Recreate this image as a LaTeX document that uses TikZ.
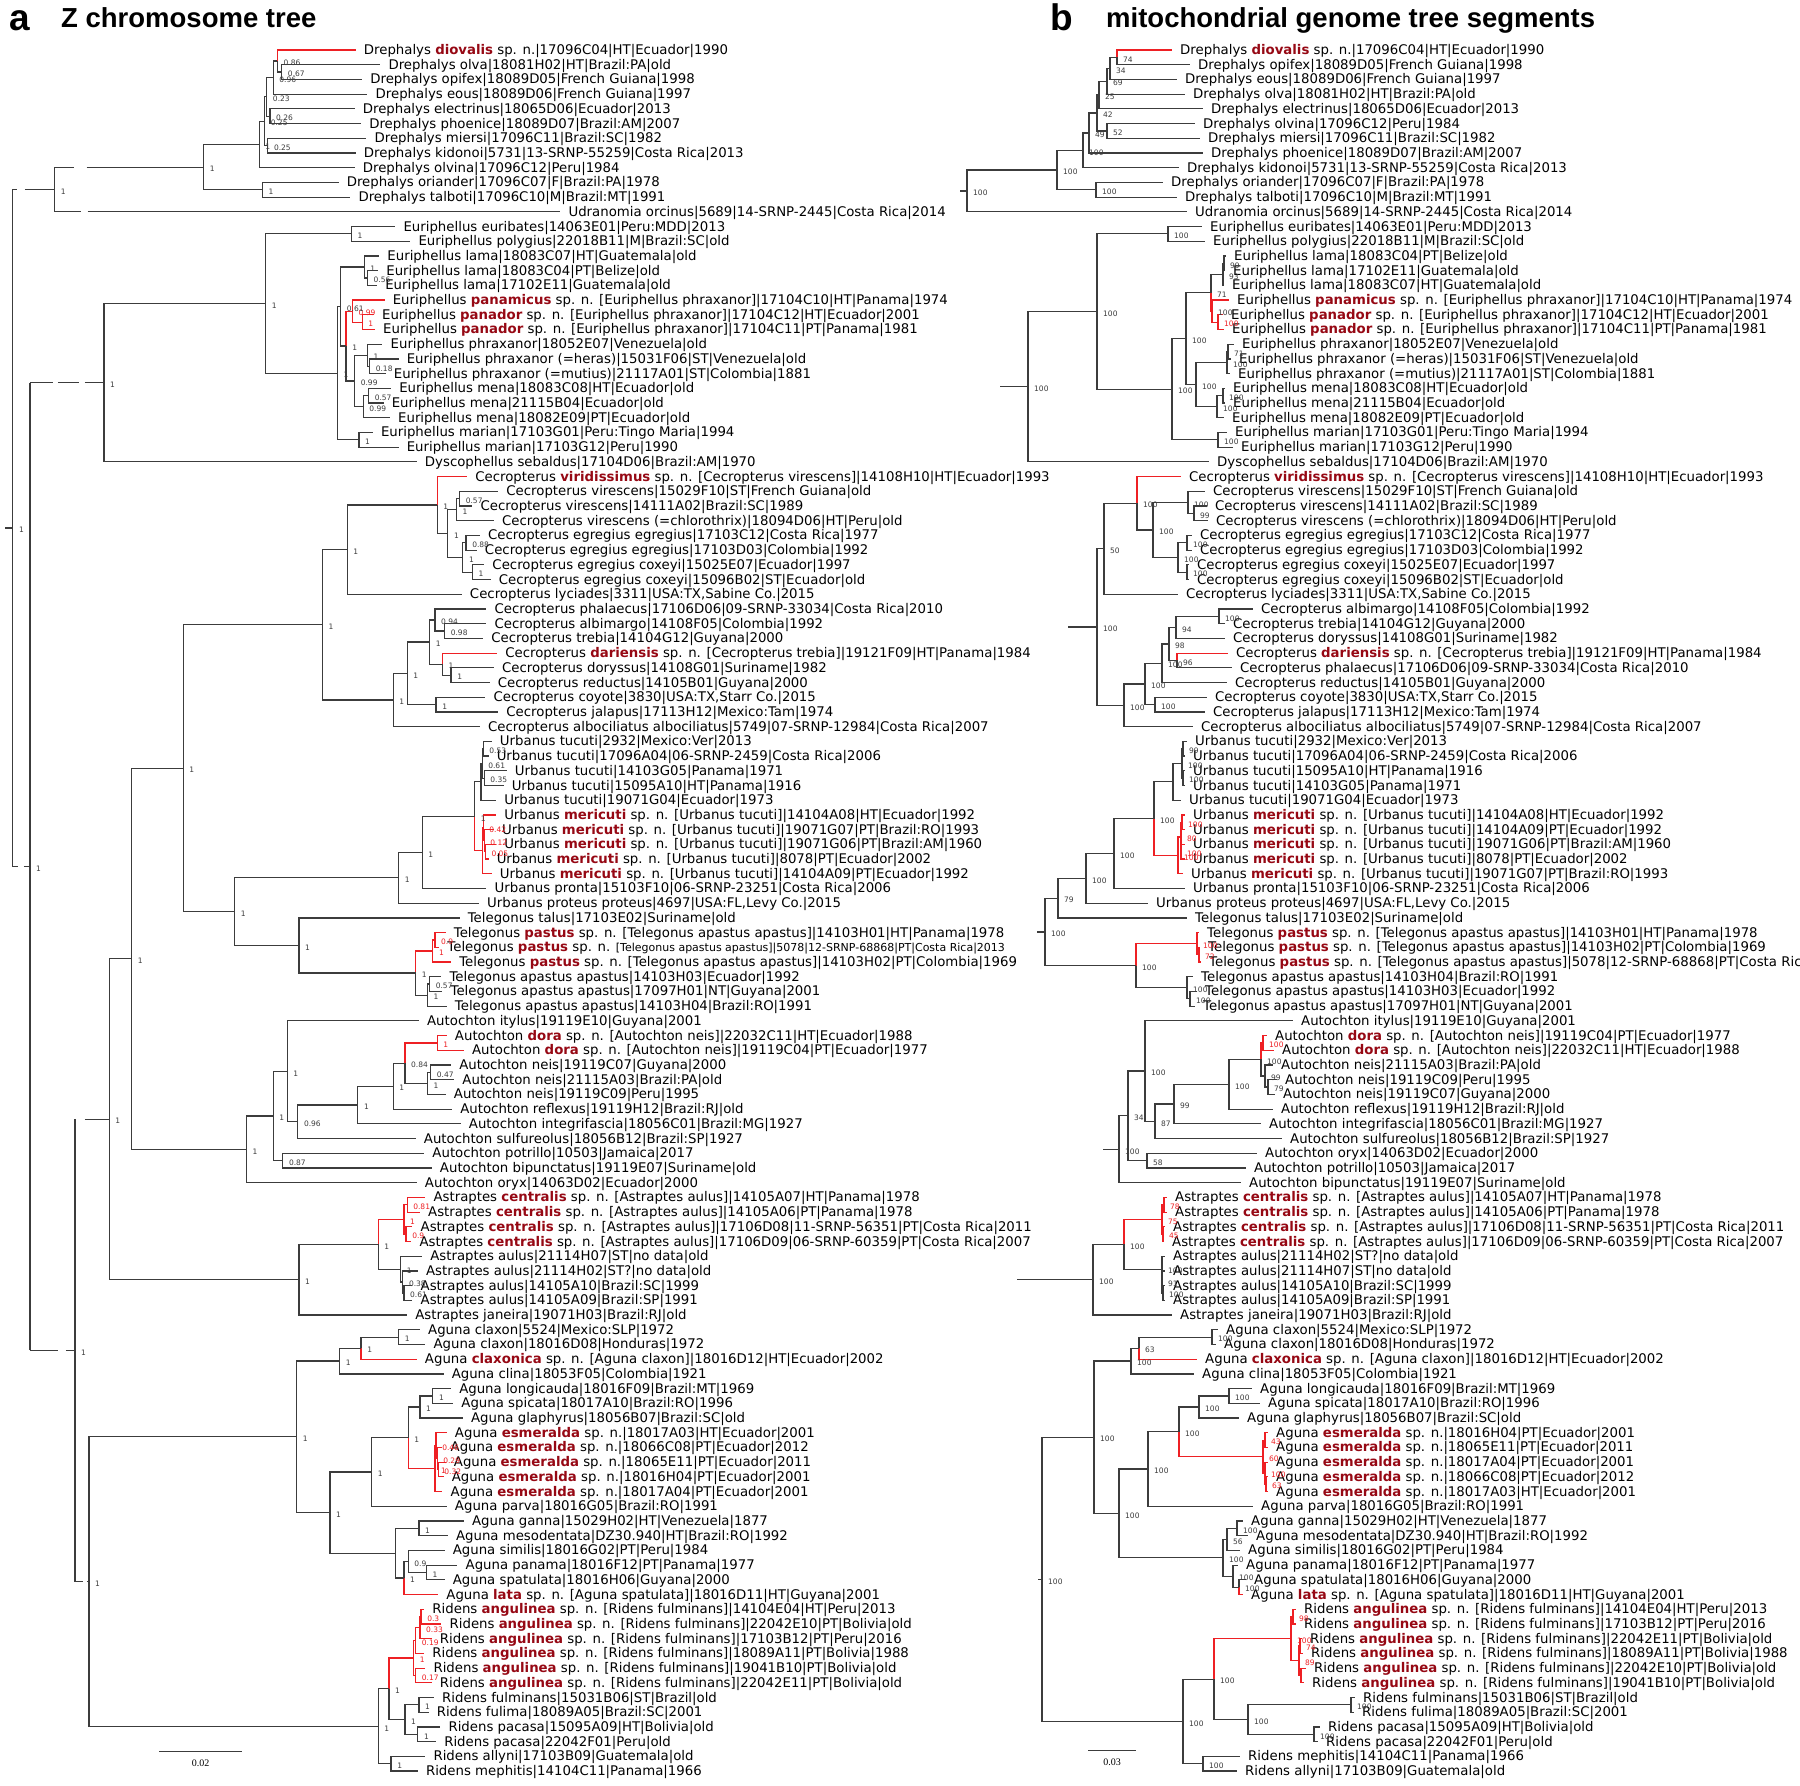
\documentclass[tikz,border=0pt]{standalone}
\usepackage{fontspec}
\setmainfont{DejaVu Sans}
\newfontfamily\headfont{Liberation Sans}
\newfontfamily\barfont{Liberation Serif}
\usetikzlibrary{calc}
\definecolor{treecol}{RGB}{60,60,60}
\definecolor{bred}{RGB}{238,32,36}
\definecolor{sred}{RGB}{150,8,20}
\newcommand\sn[1]{\textbf{\textcolor{sred}{#1}}}
\newcommand\R[1]{\textcolor{bred}{#1}}
\newcommand\spPnm{Euriphellus \sn{panamicus} sp. n. [Euriphellus phraxanor]}
\newcommand\spPnd{Euriphellus \sn{panador} sp. n. [Euriphellus phraxanor]}
\newcommand\spVir{Cecropterus \sn{viridissimus} sp. n. [Cecropterus virescens]}
\newcommand\spDar{Cecropterus \sn{dariensis} sp. n. [Cecropterus trebia]}
\newcommand\spMer{Urbanus \sn{mericuti} sp. n. [Urbanus tucuti]}
\newcommand\spPas{Telegonus \sn{pastus} sp. n. [Telegonus apastus apastus]}
\newcommand\spDor{Autochton \sn{dora} sp. n. [Autochton neis]}
\newcommand\spCen{Astraptes \sn{centralis} sp. n. [Astraptes aulus]}
\newcommand\spCla{Aguna \sn{claxonica} sp. n. [Aguna claxon]}
\newcommand\spEsm{Aguna \sn{esmeralda} sp. n.}
\newcommand\spLat{Aguna \sn{lata} sp. n. [Aguna spatulata]}
\newcommand\spAng{Ridens \sn{angulinea} sp. n. [Ridens fulminans]}
\newcommand\leafL[3]{\node[leaf] (L#1) at (#2,{35.29+14.71*#1}) {#3};}
\newcommand\leafR[3]{\node[leaf] (R#1) at (#2,{35.29+14.71*#1}) {#3};}
\newcommand\cladenode[5]{\coordinate (tmp) at ($(#3)!.5!(#4)$);
  \coordinate (#1) at (#2,0 |- tmp); \node[sup] (#1s) at (#1) {#5};}
\newcommand\clade[7]{\cladenode{#1}{#2}{#3}{#4}{#7}
  \draw[#5] (#1) |- (#3); \draw[#6] (#1) |- (#4);}
\newcommand\brokenedge[3]{\draw[ln] (#1) -- (#1 |- #2);
  \draw[ln,dash pattern=#3] (#1 |- #2) -- (#2);}
\tikzset{
  ln/.style={draw=treecol,line width=1.2pt},
  lr/.style={draw=bred,line width=1.2pt},
  leaf/.style={anchor=west,inner xsep=8pt,inner ysep=0pt,text height=9.5pt,text depth=0.5pt,
    font=\fontsize{13.3}{14}\selectfont},
  sup/.style={anchor=west,inner sep=0pt,xshift=6pt,yshift=-2pt,text=treecol,
    font=\fontsize{7.5}{8}\selectfont},
  head/.style={anchor=base west,inner sep=0pt,font=\headfont\bfseries\fontsize{27.5}{28}\selectfont},
  panel/.style={anchor=base west,inner sep=0pt,font=\headfont\bfseries\fontsize{37}{37}\selectfont},
  barlabel/.style={inner sep=0pt,font=\barfont\fontsize{10}{10}\selectfont}
}
\begin{document}
\begin{tikzpicture}[x=1pt,y=-1pt]
\fill[white] (0,0) rectangle (1800,1786);
\useasboundingbox (0,0) rectangle (1800,1786);
\node[panel] (pa) at (9,30) {a};
\node[head] (ha) at (61,27) {Z chromosome tree};
\node[panel] (pb) at (1050,30) {b};
\node[head] (hb) at (1106,27) {mitochondrial genome tree segments};

\begin{scope}[x=1.0714pt]
\leafL{1}{332}{Drephalys \sn{diovalis} sp. n.|17096C04|HT|Ecuador|1990}
\leafL{2}{355}{Drephalys olva|18081H02|HT|Brazil:PA|old}
\leafL{3}{338}{Drephalys opifex|18089D05|French Guiana|1998}
\leafL{4}{343}{Drephalys eous|18089D06|French Guiana|1997}
\leafL{5}{331}{Drephalys electrinus|18065D06|Ecuador|2013}
\leafL{6}{337}{Drephalys phoenice|18089D07|Brazil:AM|2007}
\leafL{7}{342}{Drephalys miersi|17096C11|Brazil:SC|1982}
\leafL{8}{332}{Drephalys kidonoi|5731|13-SRNP-55259|Costa Rica|2013}
\leafL{9}{331}{Drephalys olvina|17096C12|Peru|1984}
\leafL{10}{316}{Drephalys oriander|17096C07|F|Brazil:PA|1978}
\leafL{11}{327}{Drephalys talboti|17096C10|M|Brazil:MT|1991}
\leafL{12}{523}{Udranomia orcinus|5689|14-SRNP-2445|Costa Rica|2014}
\leafL{13}{369}{Euriphellus euribates|14063E01|Peru:MDD|2013}
\leafL{14}{383}{Euriphellus polygius|22018B11|M|Brazil:SC|old}
\leafL{15}{354}{Euriphellus lama|18083C07|HT|Guatemala|old}
\leafL{16}{353}{Euriphellus lama|18083C04|PT|Belize|old}
\leafL{17}{352}{Euriphellus lama|17102E11|Guatemala|old}
\leafL{18}{359}{\spPnm|17104C10|HT|Panama|1974}
\leafL{19}{349}{\spPnd|17104C12|HT|Ecuador|2001}
\leafL{20}{350}{\spPnd|17104C11|PT|Panama|1981}
\leafL{21}{357}{Euriphellus phraxanor|18052E07|Venezuela|old}
\leafL{22}{372}{Euriphellus phraxanor (=heras)|15031F06|ST|Venezuela|old}
\leafL{23}{360}{Euriphellus phraxanor (=mutius)|21117A01|ST|Colombia|1881}
\leafL{24}{365}{Euriphellus mena|18083C08|HT|Ecuador|old}
\leafL{25}{358}{Euriphellus mena|21115B04|Ecuador|old}
\leafL{26}{364}{Euriphellus mena|18082E09|PT|Ecuador|old}
\leafL{27}{348}{Euriphellus marian|17103G01|Peru:Tingo Maria|1994}
\leafL{28}{372}{Euriphellus marian|17103G12|Peru|1990}
\leafL{29}{389}{Dyscophellus sebaldus|17104D06|Brazil:AM|1970}
\leafL{30}{436}{\spVir|14108H10|HT|Ecuador|1993}
\leafL{31}{465}{Cecropterus virescens|15029F10|ST|French Guiana|old}
\leafL{32}{441}{Cecropterus virescens|14111A02|Brazil:SC|1989}
\leafL{33}{461}{Cecropterus virescens (=chlorothrix)|18094D06|HT|Peru|old}
\leafL{34}{448}{Cecropterus egregius egregius|17103C12|Costa Rica|1977}
\leafL{35}{445}{Cecropterus egregius egregius|17103D03|Colombia|1992}
\leafL{36}{452}{Cecropterus egregius coxeyi|15025E07|Ecuador|1997}
\leafL{37}{458}{Cecropterus egregius coxeyi|15096B02|ST|Ecuador|old}
\leafL{38}{431}{Cecropterus lyciades|3311|USA:TX,Sabine Co.|2015}
\leafL{39}{454}{Cecropterus phalaecus|17106D06|09-SRNP-33034|Costa Rica|2010}
\leafL{40}{454}{Cecropterus albimargo|14108F05|Colombia|1992}
\leafL{41}{451}{Cecropterus trebia|14104G12|Guyana|2000}
\leafL{42}{464}{\spDar|19121F09|HT|Panama|1984}
\leafL{43}{461}{Cecropterus doryssus|14108G01|Suriname|1982}
\leafL{44}{457}{Cecropterus reductus|14105B01|Guyana|2000}
\leafL{45}{453}{Cecropterus coyote|3830|USA:TX,Starr Co.|2015}
\leafL{46}{465}{Cecropterus jalapus|17113H12|Mexico:Tam|1974}
\leafL{47}{448}{Cecropterus albociliatus albociliatus|5749|07-SRNP-12984|Costa Rica|2007}
\leafL{48}{459}{Urbanus tucuti|2932|Mexico:Ver|2013}
\leafL{49}{456}{Urbanus tucuti|17096A04|06-SRNP-2459|Costa Rica|2006}
\leafL{50}{473}{Urbanus tucuti|14103G05|Panama|1971}
\leafL{51}{470}{Urbanus tucuti|15095A10|HT|Panama|1916}
\leafL{52}{463}{Urbanus tucuti|19071G04|Ecuador|1973}
\leafL{53}{463}{\spMer|14104A08|HT|Ecuador|1992}
\leafL{54}{461}{\spMer|19071G07|PT|Brazil:RO|1993}
\leafL{55}{463}{\spMer|19071G06|PT|Brazil:AM|1960}
\leafL{56}{456}{\spMer|8078|PT|Ecuador|2002}
\leafL{57}{459}{\spMer|14104A09|PT|Ecuador|1992}
\leafL{58}{454}{Urbanus pronta|15103F10|06-SRNP-23251|Costa Rica|2006}
\leafL{59}{447}{Urbanus proteus proteus|4697|USA:FL,Levy Co.|2015}
\leafL{60}{429}{Telegonus talus|17103E02|Suriname|old}
\leafL{61}{416}{\spPas|14103H01|HT|Panama|1978}
\leafL{62}{410}{Telegonus \sn{pastus} sp. n. {\fontsize{11}{11}\selectfont[Telegonus apastus apastus]|5078|12-SRNP-68868|PT|Costa Rica|2013}}
\leafL{63}{421}{\spPas|14103H02|PT|Colombia|1969}
\leafL{64}{412}{Telegonus apastus apastus|14103H03|Ecuador|1992}
\leafL{65}{413}{Telegonus apastus apastus|17097H01|NT|Guyana|2001}
\leafL{66}{417}{Telegonus apastus apastus|14103H04|Brazil:RO|1991}
\leafL{67}{391}{Autochton itylus|19119E10|Guyana|2001}
\leafL{68}{417}{\spDor|22032C11|HT|Ecuador|1988}
\leafL{69}{433}{\spDor|19119C04|PT|Ecuador|1977}
\leafL{70}{421}{Autochton neis|19119C07|Guyana|2000}
\leafL{71}{424}{Autochton neis|21115A03|Brazil:PA|old}
\leafL{72}{416}{Autochton neis|19119C09|Peru|1995}
\leafL{73}{422}{Autochton reflexus|19119H12|Brazil:RJ|old}
\leafL{74}{430}{Autochton integrifascia|18056C01|Brazil:MG|1927}
\leafL{75}{388}{Autochton sulfureolus|18056B12|Brazil:SP|1927}
\leafL{76}{396}{Autochton potrillo|10503|Jamaica|2017}
\leafL{77}{403}{Autochton bipunctatus|19119E07|Suriname|old}
\leafL{78}{389}{Autochton oryx|14063D02|Ecuador|2000}
\leafL{79}{397}{\spCen|14105A07|HT|Panama|1978}
\leafL{80}{392}{\spCen|14105A06|PT|Panama|1978}
\leafL{81}{385}{\spCen|17106D08|11-SRNP-56351|PT|Costa Rica|2011}
\leafL{82}{384}{\spCen|17106D09|06-SRNP-60359|PT|Costa Rica|2007}
\leafL{83}{394}{Astraptes aulus|21114H07|ST|no data|old}
\leafL{84}{390}{Astraptes aulus|21114H02|ST?|no data|old}
\leafL{85}{385}{Astraptes aulus|14105A10|Brazil:SC|1999}
\leafL{86}{385}{Astraptes aulus|14105A09|Brazil:SP|1991}
\leafL{87}{380}{Astraptes janeira|19071H03|Brazil:RJ|old}
\leafL{88}{392}{Aguna claxon|5524|Mexico:SLP|1972}
\leafL{89}{397}{Aguna claxon|18016D08|Honduras|1972}
\leafL{90}{389}{\spCla|18016D12|HT|Ecuador|2002}
\leafL{91}{414}{Aguna clina|18053F05|Colombia|1921}
\leafL{92}{421}{Aguna longicauda|18016F09|Brazil:MT|1969}
\leafL{93}{423}{Aguna spicata|18017A10|Brazil:RO|1996}
\leafL{94}{432}{Aguna glaphyrus|18056B07|Brazil:SC|old}
\leafL{95}{417}{\spEsm|18017A03|HT|Ecuador|2001}
\leafL{96}{413}{\spEsm|18066C08|PT|Ecuador|2012}
\leafL{97}{416}{\spEsm|18065E11|PT|Ecuador|2011}
\leafL{98}{414}{\spEsm|18016H04|PT|Ecuador|2001}
\leafL{99}{413}{\spEsm|18017A04|PT|Ecuador|2001}
\leafL{100}{417}{Aguna parva|18016G05|Brazil:RO|1991}
\leafL{101}{433}{Aguna ganna|15029H02|HT|Venezuela|1877}
\leafL{102}{418}{Aguna mesodentata|DZ30.940|HT|Brazil:RO|1992}
\leafL{103}{415}{Aguna similis|18016G02|PT|Peru|1984}
\leafL{104}{427}{Aguna panama|18016F12|PT|Panama|1977}
\leafL{105}{415}{Aguna spatulata|18016H06|Guyana|2000}
\leafL{106}{409}{\spLat|18016D11|HT|Guyana|2001}
\leafL{107}{396}{\spAng|14104E04|HT|Peru|2013}
\leafL{108}{412}{\spAng|22042E10|PT|Bolivia|old}
\leafL{109}{403}{\spAng|17103B12|PT|Peru|2016}
\leafL{110}{396}{\spAng|18089A11|PT|Bolivia|1988}
\leafL{111}{397}{\spAng|19041B10|PT|Bolivia|old}
\leafL{112}{403}{\spAng|22042E11|PT|Bolivia|old}
\leafL{113}{405}{Ridens fulminans|15031B06|ST|Brazil|old}
\leafL{114}{400}{Ridens fulima|18089A05|Brazil:SC|2001}
\leafL{115}{411}{Ridens pacasa|15095A09|HT|Bolivia|old}
\leafL{116}{407}{Ridens pacasa|22042F01|Peru|old}
\leafL{117}{397}{Ridens allyni|17103B09|Guatemala|old}
\leafL{118}{390}{Ridens mephitis|14104C11|Panama|1966}

\clade{lD1}{263}{L2}{L3}{ln}{ln}{0.67}
\clade{lD2}{259}{L1}{lD1}{lr}{ln}{0.86}
\clade{lD3}{255}{lD2}{L4}{ln}{ln}{0.96}
\clade{lD5}{252}{L5}{L6}{ln}{ln}{0.26}
\clade{lD4}{249}{lD3}{lD5}{ln}{ln}{0.23}
\clade{lD6}{250}{L7}{L8}{ln}{ln}{0.25}
\clade{lD7}{247}{lD4}{lD6}{ln}{ln}{0.25}
\clade{lD8}{242}{lD7}{L9}{ln}{ln}{1}
\clade{lD9}{245}{L10}{L11}{ln}{ln}{1}
\clade{lD10}{190}{lD8}{lD9}{ln}{ln}{1}
\clade{lE1}{328}{L13}{L14}{ln}{ln}{1}
\clade{lE2}{343}{L16}{L17}{ln}{ln}{0.56}
\clade{lE3}{340}{L15}{lE2}{ln}{ln}{1}
\clade{lE4}{338}{L19}{L20}{lr}{lr}{\R{1}}
\clade{lE5}{329}{L18}{lE4}{lr}{lr}{\R{0.99}}
\clade{lE6a}{345}{L22}{L23}{ln}{ln}{0.18}
\clade{lE6}{343}{L21}{lE6a}{ln}{ln}{1}
\clade{lE8a}{344}{L24}{L25}{ln}{ln}{0.57}
\clade{lE8}{339}{lE8a}{L26}{ln}{ln}{0.99}
\clade{lE9}{331}{lE6}{lE8}{ln}{ln}{0.99}
\clade{lE10}{323}{lE5}{lE9}{lr}{ln}{1}
\clade{lE7}{318}{lE3}{lE10}{ln}{ln}{0.61}
\clade{lE11}{335}{L27}{L28}{ln}{ln}{1}
\clade{lE12}{315}{lE7}{lE11}{ln}{ln}{1}
\clade{lE13}{248}{lE1}{lE12}{ln}{ln}{1}
\clade{lE0}{97}{lE13}{L29}{ln}{ln}{1}
\clade{lC31}{429}{L31}{L32}{ln}{ln}{0.57}
\clade{lC5}{426}{lC31}{L33}{ln}{ln}{1}
\clade{lC34}{435}{L34}{L35}{ln}{ln}{0.88}
\clade{lC36}{441}{L36}{L37}{ln}{ln}{1}
\clade{lC6}{432}{lC34}{lC36}{ln}{ln}{1}
\clade{lC4}{418}{lC5}{lC6}{ln}{ln}{1}
\clade{lC3}{408}{L30}{lC4}{lr}{ln}{1}
\clade{lC1}{324}{lC3}{L38}{ln}{ln}{1}
\clade{lC40}{415}{L40}{L41}{ln}{ln}{0.98}
\clade{lC10}{406}{L39}{lC40}{ln}{ln}{0.94}
\clade{lC43}{421}{L43}{L44}{ln}{ln}{1}
\clade{lC11}{413}{L42}{lC43}{lr}{ln}{1}
\clade{lC9}{401}{lC10}{lC11}{ln}{ln}{1}
\clade{lC45}{407}{L45}{L46}{ln}{ln}{1}
\clade{lC8}{380}{lC9}{lC45}{ln}{ln}{1}
\clade{lC2}{367}{lC8}{L47}{ln}{ln}{1}
\clade{lC0}{301}{lC1}{lC2}{ln}{ln}{1}
\clade{lU6}{451}{L48}{L49}{ln}{ln}{0.53}
\clade{lU7}{452}{L50}{L51}{ln}{ln}{0.35}
\clade{lU5}{450}{lU6}{lU7}{ln}{ln}{0.61}
\clade{lU4}{449}{lU5}{L52}{ln}{ln}{}
\clade{lUm4}{453}{L55}{L56}{lr}{lr}{\R{0.05}}
\clade{lUm3}{452}{L54}{lUm4}{lr}{lr}{\R{0.12}}
\clade{lUm2}{451}{L53}{lUm3}{lr}{lr}{\R{0.42}}
\clade{lUm}{450}{lUm2}{L57}{lr}{lr}{}
\clade{lU3}{443}{lU4}{lUm}{ln}{lr}{1}
\clade{lU2}{394}{lU3}{L58}{ln}{ln}{1}
\clade{lU1}{372}{lU2}{L59}{ln}{ln}{1}
\clade{lTp2}{406}{L61}{L62}{lr}{lr}{\R{0.9}}
\clade{lTp}{404}{lTp2}{L63}{lr}{lr}{\R{1}}
\clade{lTa2}{401}{L64}{L65}{ln}{ln}{0.57}
\clade{lTa}{399}{lTa2}{L66}{ln}{ln}{1}
\clade{lT1}{388}{lTp}{lTa}{lr}{ln}{1}
\clade{lT0}{279}{L60}{lT1}{ln}{ln}{1}
\clade{lU0}{219}{lU1}{lT0}{ln}{ln}{1}
\clade{lCU}{171}{lC0}{lU0}{ln}{ln}{1}
\clade{lAd}{408}{L68}{L69}{lr}{lr}{\R{1}}
\clade{lA70}{402}{L70}{L71}{ln}{ln}{0.47}
\clade{lA7}{399}{lA70}{L72}{ln}{ln}{1}
\clade{lA6}{378}{lAd}{lA7}{lr}{ln}{0.84}
\clade{lA5}{367}{lA6}{L73}{ln}{ln}{1}
\clade{lA4}{334}{lA5}{L74}{ln}{ln}{1}
\clade{lA3}{278}{lA4}{L75}{ln}{ln}{0.96}
\clade{lA2}{268}{L67}{lA3}{ln}{ln}{1}
\clade{lA76}{264}{L76}{L77}{ln}{ln}{0.87}
\clade{lA1}{255}{lA2}{lA76}{ln}{ln}{1}
\clade{lA0}{230}{lA1}{L78}{ln}{ln}{1}
\clade{lCA}{123}{lCU}{lA0}{ln}{ln}{1}
\clade{lAc2}{380}{L79}{L80}{lr}{lr}{\R{0.81}}
\clade{lAc3}{379}{L81}{L82}{lr}{lr}{\R{0.9}}
\clade{lAc}{377}{lAc2}{lAc3}{lr}{lr}{\R{1}}
\clade{lAa3}{377}{L85}{L86}{ln}{ln}{0.61}
\clade{lAa2}{376}{L84}{lAa3}{ln}{ln}{0.38}
\clade{lAa}{374}{L83}{lAa2}{ln}{ln}{1}
\clade{lS1}{353}{lAc}{lAa}{lr}{ln}{1}
\clade{lS0}{279}{lS1}{L87}{ln}{ln}{1}
\clade{lZ3}{102}{lCA}{lS0}{ln}{ln}{1}
\clade{lG88}{372}{L88}{L89}{ln}{ln}{1}
\clade{lG4}{337}{lG88}{L90}{ln}{lr}{1}
\clade{lG2}{317}{lG4}{L91}{ln}{ln}{1}
\clade{lG92}{404}{L92}{L93}{ln}{ln}{1}
\clade{lG8}{392}{lG92}{L94}{ln}{ln}{1}
\clade{lGe4}{409}{L97}{L98}{lr}{lr}{\R{0.32}}
\clade{lGe3}{408}{L96}{lGe4}{lr}{lr}{\R{0.29}}
\clade{lGe2}{407}{L95}{lGe3}{lr}{lr}{\R{0.46}}
\clade{lGe}{406}{lGe2}{L99}{lr}{lr}{\R{1}}
\clade{lG7}{381}{lG8}{lGe}{ln}{lr}{1}
\clade{lG5}{347}{lG7}{L100}{ln}{ln}{1}
\clade{lG101}{391}{L101}{L102}{ln}{ln}{1}
\clade{lG104}{398}{L104}{L105}{ln}{ln}{1}
\clade{lG10}{381}{L103}{lG104}{ln}{ln}{0.9}
\clade{lG9}{377}{lG10}{L106}{ln}{lr}{1}
\clade{lG6}{369}{lG101}{lG9}{ln}{ln}{}
\clade{lG3}{308}{lG5}{lG6}{ln}{ln}{1}
\clade{lG1}{277}{lG2}{lG3}{ln}{ln}{1}
\clade{lRa4}{393}{L107}{L108}{lr}{lr}{\R{0.3}}
\clade{lRa2}{392}{lRa4}{L109}{lr}{lr}{\R{0.33}}
\clade{lRaA}{388}{lRa2}{L110}{lr}{lr}{\R{0.19}}
\clade{lRa5}{388}{L111}{L112}{lr}{lr}{\R{0.17}}
\clade{lRa}{386}{lRaA}{lRa5}{lr}{lr}{\R{1}}
\clade{lRf1}{391}{L113}{L114}{ln}{ln}{1}
\clade{lRf2}{390}{L115}{L116}{ln}{ln}{1}
\clade{lRf}{378}{lRf1}{lRf2}{ln}{ln}{1}
\clade{lRi1}{363}{lRa}{lRf}{lr}{ln}{1}
\clade{lR117}{365}{L117}{L118}{ln}{ln}{1}
\clade{lRi0}{353}{lRi1}{lR117}{ln}{ln}{1}
\clade{lAg0}{83}{lG1}{lRi0}{ln}{ln}{1}
\cladenode{lZ2}{70}{lZ3}{lAg0}{1}
\brokenedge{lZ2}{lZ3}{on 1pt off 9pt on 4000pt off 1pt}
\brokenedge{lZ2}{lAg0}{on 8pt off 4pt on 4000pt off 1pt}
\cladenode{lZ1}{28}{lE0}{lZ2}{1}
\brokenedge{lZ1}{lE0}{on 23pt off 5pt on 21pt off 6pt on 4000pt off 1pt}
\brokenedge{lZ1}{lZ2}{on 28pt off 8pt on 4000pt off 1pt}
\cladenode{lD11}{51}{lD10}{L12}{1}
\brokenedge{lD11}{lD10}{on 19pt off 13pt on 4000pt off 1pt}
\brokenedge{lD11}{L12}{on 26pt off 7pt on 4000pt off 1pt}
\cladenode{lR}{12}{lD11}{lZ1}{1}
\brokenedge{lR}{lD11}{on 4pt off 8pt on 4000pt off 1pt}
\brokenedge{lR}{lZ1}{on 5pt off 6pt on 4000pt off 1pt}
\coordinate (lstub) at (5,0 |- lR);
\draw[ln] (lstub) -- (lR);
\end{scope}

\leafR{1}{1172}{Drephalys \sn{diovalis} sp. n.|17096C04|HT|Ecuador|1990}
\leafR{2}{1190}{Drephalys opifex|18089D05|French Guiana|1998}
\leafR{3}{1177}{Drephalys eous|18089D06|French Guiana|1997}
\leafR{4}{1185}{Drephalys olva|18081H02|HT|Brazil:PA|old}
\leafR{5}{1203}{Drephalys electrinus|18065D06|Ecuador|2013}
\leafR{6}{1195}{Drephalys olvina|17096C12|Peru|1984}
\leafR{7}{1200}{Drephalys miersi|17096C11|Brazil:SC|1982}
\leafR{8}{1203}{Drephalys phoenice|18089D07|Brazil:AM|2007}
\leafR{9}{1179}{Drephalys kidonoi|5731|13-SRNP-55259|Costa Rica|2013}
\leafR{10}{1163}{Drephalys oriander|17096C07|F|Brazil:PA|1978}
\leafR{11}{1177}{Drephalys talboti|17096C10|M|Brazil:MT|1991}
\leafR{12}{1187}{Udranomia orcinus|5689|14-SRNP-2445|Costa Rica|2014}
\leafR{13}{1202}{Euriphellus euribates|14063E01|Peru:MDD|2013}
\leafR{14}{1205}{Euriphellus polygius|22018B11|M|Brazil:SC|old}
\leafR{15}{1226}{Euriphellus lama|18083C04|PT|Belize|old}
\leafR{16}{1225}{Euriphellus lama|17102E11|Guatemala|old}
\leafR{17}{1224}{Euriphellus lama|18083C07|HT|Guatemala|old}
\leafR{18}{1229}{\spPnm|17104C10|HT|Panama|1974}
\leafR{19}{1223}{\spPnd|17104C12|HT|Ecuador|2001}
\leafR{20}{1224}{\spPnd|17104C11|PT|Panama|1981}
\leafR{21}{1234}{Euriphellus phraxanor|18052E07|Venezuela|old}
\leafR{22}{1231}{Euriphellus phraxanor (=heras)|15031F06|ST|Venezuela|old}
\leafR{23}{1230}{Euriphellus phraxanor (=mutius)|21117A01|ST|Colombia|1881}
\leafR{24}{1225}{Euriphellus mena|18083C08|HT|Ecuador|old}
\leafR{25}{1225}{Euriphellus mena|21115B04|Ecuador|old}
\leafR{26}{1224}{Euriphellus mena|18082E09|PT|Ecuador|old}
\leafR{27}{1227}{Euriphellus marian|17103G01|Peru:Tingo Maria|1994}
\leafR{28}{1233}{Euriphellus marian|17103G12|Peru|1990}
\leafR{29}{1209}{Dyscophellus sebaldus|17104D06|Brazil:AM|1970}
\leafR{30}{1181}{\spVir|14108H10|HT|Ecuador|1993}
\leafR{31}{1205}{Cecropterus virescens|15029F10|ST|French Guiana|old}
\leafR{32}{1207}{Cecropterus virescens|14111A02|Brazil:SC|1989}
\leafR{33}{1208}{Cecropterus virescens (=chlorothrix)|18094D06|HT|Peru|old}
\leafR{34}{1192}{Cecropterus egregius egregius|17103C12|Costa Rica|1977}
\leafR{35}{1192}{Cecropterus egregius egregius|17103D03|Colombia|1992}
\leafR{36}{1189}{Cecropterus egregius coxeyi|15025E07|Ecuador|1997}
\leafR{37}{1189}{Cecropterus egregius coxeyi|15096B02|ST|Ecuador|old}
\leafR{38}{1178}{Cecropterus lyciades|3311|USA:TX,Sabine Co.|2015}
\leafR{39}{1253}{Cecropterus albimargo|14108F05|Colombia|1992}
\leafR{40}{1225}{Cecropterus trebia|14104G12|Guyana|2000}
\leafR{41}{1225}{Cecropterus doryssus|14108G01|Suriname|1982}
\leafR{42}{1228}{\spDar|19121F09|HT|Panama|1984}
\leafR{43}{1232}{Cecropterus phalaecus|17106D06|09-SRNP-33034|Costa Rica|2010}
\leafR{44}{1227}{Cecropterus reductus|14105B01|Guyana|2000}
\leafR{45}{1207}{Cecropterus coyote|3830|USA:TX,Starr Co.|2015}
\leafR{46}{1205}{Cecropterus jalapus|17113H12|Mexico:Tam|1974}
\leafR{47}{1193}{Cecropterus albociliatus albociliatus|5749|07-SRNP-12984|Costa Rica|2007}
\leafR{48}{1187}{Urbanus tucuti|2932|Mexico:Ver|2013}
\leafR{49}{1185}{Urbanus tucuti|17096A04|06-SRNP-2459|Costa Rica|2006}
\leafR{50}{1185}{Urbanus tucuti|15095A10|HT|Panama|1916}
\leafR{51}{1185}{Urbanus tucuti|14103G05|Panama|1971}
\leafR{52}{1181}{Urbanus tucuti|19071G04|Ecuador|1973}
\leafR{53}{1185}{\spMer|14104A08|HT|Ecuador|1992}
\leafR{54}{1185}{\spMer|14104A09|PT|Ecuador|1992}
\leafR{55}{1185}{\spMer|19071G06|PT|Brazil:AM|1960}
\leafR{56}{1185}{\spMer|8078|PT|Ecuador|2002}
\leafR{57}{1183}{\spMer|19071G07|PT|Brazil:RO|1993}
\leafR{58}{1185}{Urbanus pronta|15103F10|06-SRNP-23251|Costa Rica|2006}
\leafR{59}{1148}{Urbanus proteus proteus|4697|USA:FL,Levy Co.|2015}
\leafR{60}{1187}{Telegonus talus|17103E02|Suriname|old}
\leafR{61}{1199}{\spPas|14103H01|HT|Panama|1978}
\leafR{62}{1200}{\spPas|14103H02|PT|Colombia|1969}
\leafR{63}{1201}{\spPas|5078|12-SRNP-68868|PT|Costa Rica|2013}
\leafR{64}{1193}{Telegonus apastus apastus|14103H04|Brazil:RO|1991}
\leafR{65}{1197}{Telegonus apastus apastus|14103H03|Ecuador|1992}
\leafR{66}{1195}{Telegonus apastus apastus|17097H01|NT|Guyana|2001}
\leafR{67}{1293}{Autochton itylus|19119E10|Guyana|2001}
\leafR{68}{1267}{\spDor|19119C04|PT|Ecuador|1977}
\leafR{69}{1274}{\spDor|22032C11|HT|Ecuador|1988}
\leafR{70}{1273}{Autochton neis|21115A03|Brazil:PA|old}
\leafR{71}{1277}{Autochton neis|19119C09|Peru|1995}
\leafR{72}{1275}{Autochton neis|19119C07|Guyana|2000}
\leafR{73}{1273}{Autochton reflexus|19119H12|Brazil:RJ|old}
\leafR{74}{1261}{Autochton integrifascia|18056C01|Brazil:MG|1927}
\leafR{75}{1282}{Autochton sulfureolus|18056B12|Brazil:SP|1927}
\leafR{76}{1257}{Autochton oryx|14063D02|Ecuador|2000}
\leafR{77}{1246}{Autochton potrillo|10503|Jamaica|2017}
\leafR{78}{1241}{Autochton bipunctatus|19119E07|Suriname|old}
\leafR{79}{1167}{\spCen|14105A07|HT|Panama|1978}
\leafR{80}{1167}{\spCen|14105A06|PT|Panama|1978}
\leafR{81}{1165}{\spCen|17106D08|11-SRNP-56351|PT|Costa Rica|2011}
\leafR{82}{1164}{\spCen|17106D09|06-SRNP-60359|PT|Costa Rica|2007}
\leafR{83}{1165}{Astraptes aulus|21114H02|ST?|no data|old}
\leafR{84}{1165}{Astraptes aulus|21114H07|ST|no data|old}
\leafR{85}{1165}{Astraptes aulus|14105A10|Brazil:SC|1999}
\leafR{86}{1165}{Astraptes aulus|14105A09|Brazil:SP|1991}
\leafR{87}{1172}{Astraptes janeira|19071H03|Brazil:RJ|old}
\leafR{88}{1218}{Aguna claxon|5524|Mexico:SLP|1972}
\leafR{89}{1216}{Aguna claxon|18016D08|Honduras|1972}
\leafR{90}{1197}{\spCla|18016D12|HT|Ecuador|2002}
\leafR{91}{1194}{Aguna clina|18053F05|Colombia|1921}
\leafR{92}{1252}{Aguna longicauda|18016F09|Brazil:MT|1969}
\leafR{93}{1260}{Aguna spicata|18017A10|Brazil:RO|1996}
\leafR{94}{1239}{Aguna glaphyrus|18056B07|Brazil:SC|old}
\leafR{95}{1268}{\spEsm|18016H04|PT|Ecuador|2001}
\leafR{96}{1268}{\spEsm|18065E11|PT|Ecuador|2011}
\leafR{97}{1268}{\spEsm|18017A04|PT|Ecuador|2001}
\leafR{98}{1268}{\spEsm|18066C08|PT|Ecuador|2012}
\leafR{99}{1268}{\spEsm|18017A03|HT|Ecuador|2001}
\leafR{100}{1253}{Aguna parva|18016G05|Brazil:RO|1991}
\leafR{101}{1243}{Aguna ganna|15029H02|HT|Venezuela|1877}
\leafR{102}{1248}{Aguna mesodentata|DZ30.940|HT|Brazil:RO|1992}
\leafR{103}{1240}{Aguna similis|18016G02|PT|Peru|1984}
\leafR{104}{1238}{Aguna panama|18016F12|PT|Panama|1977}
\leafR{105}{1246}{Aguna spatulata|18016H06|Guyana|2000}
\leafR{106}{1243}{\spLat|18016D11|HT|Guyana|2001}
\leafR{107}{1296}{\spAng|14104E04|HT|Peru|2013}
\leafR{108}{1296}{\spAng|17103B12|PT|Peru|2016}
\leafR{109}{1302}{\spAng|22042E11|PT|Bolivia|old}
\leafR{110}{1303}{\spAng|18089A11|PT|Bolivia|1988}
\leafR{111}{1306}{\spAng|22042E10|PT|Bolivia|old}
\leafR{112}{1304}{\spAng|19041B10|PT|Bolivia|old}
\leafR{113}{1355}{Ridens fulminans|15031B06|ST|Brazil|old}
\leafR{114}{1354}{Ridens fulima|18089A05|Brazil:SC|2001}
\leafR{115}{1320}{Ridens pacasa|15095A09|HT|Bolivia|old}
\leafR{116}{1318}{Ridens pacasa|22042F01|Peru|old}
\leafR{117}{1240}{Ridens mephitis|14104C11|Panama|1966}
\leafR{118}{1237}{Ridens allyni|17103B09|Guatemala|old}

\clade{rB8}{1117}{R1}{R2}{lr}{ln}{74}
\clade{rB7}{1110}{rB8}{R3}{ln}{ln}{34}
\clade{rB6}{1107}{rB7}{R4}{ln}{ln}{69}
\clade{rB5}{1099}{rB6}{R5}{ln}{ln}{25}
\clade{rB67}{1107}{R6}{R7}{ln}{ln}{52}
\clade{rB4}{1097}{rB5}{rB67}{ln}{ln}{42}
\clade{rB3}{1089}{rB4}{R8}{ln}{ln}{49}
\clade{rB2}{1083}{rB3}{R9}{ln}{ln}{100}
\clade{rB10}{1096}{R10}{R11}{ln}{ln}{100}
\clade{rB1}{1057}{rB2}{rB10}{ln}{ln}{100}
\clade{rB0}{967}{rB1}{R12}{ln}{ln}{100}
\clade{rE13}{1168}{R13}{R14}{ln}{ln}{100}
\clade{rEL1}{1224}{R15}{R16}{ln}{ln}{99}
\clade{rEL}{1223}{rEL1}{R17}{ln}{ln}{93}
\clade{rEp1}{1218}{R19}{R20}{lr}{lr}{\R{100}}
\clade{rEp}{1212}{R18}{rEp1}{lr}{lr}{100}
\clade{rE4}{1211}{rEL}{rEp}{ln}{lr}{71}
\clade{rPh1}{1228}{R21}{R22}{ln}{ln}{71}
\clade{rPh}{1227}{rPh1}{R23}{ln}{ln}{100}
\clade{rM1}{1223}{R24}{R25}{ln}{ln}{100}
\clade{rM}{1217}{rM1}{R26}{ln}{ln}{100}
\clade{rE5}{1196}{rPh}{rM}{ln}{ln}{100}
\clade{rE3}{1186}{rE4}{rE5}{ln}{ln}{100}
\clade{rMa}{1218}{R27}{R28}{ln}{ln}{100}
\clade{rE2}{1172}{rE3}{rMa}{ln}{ln}{100}
\clade{rE1}{1097}{rE13}{rE2}{ln}{ln}{100}
\clade{rE0}{1028}{rE1}{R29}{ln}{ln}{100}
\clade{rC32}{1194}{R32}{R33}{ln}{ln}{99}
\clade{rC5}{1188}{R31}{rC32}{ln}{ln}{100}
\clade{rC34}{1187}{R34}{R35}{ln}{ln}{100}
\clade{rC36}{1187}{R36}{R37}{ln}{ln}{100}
\clade{rC6}{1178}{rC34}{rC36}{ln}{ln}{100}
\clade{rC4}{1153}{rC5}{rC6}{ln}{ln}{100}
\clade{rC3}{1137}{R30}{rC4}{lr}{ln}{100}
\clade{rC1}{1104}{rC3}{R38}{ln}{ln}{50}
\clade{rC39}{1219}{R39}{R40}{ln}{ln}{100}
\clade{rC10}{1176}{rC39}{R41}{ln}{ln}{94}
\clade{rC11}{1177}{R42}{R43}{lr}{ln}{96}
\clade{rC9}{1169}{rC10}{rC11}{ln}{ln}{98}
\clade{rC8}{1162}{rC9}{R44}{ln}{ln}{100}
\clade{rC45}{1155}{R45}{R46}{ln}{ln}{100}
\clade{rC7}{1145}{rC8}{rC45}{ln}{ln}{100}
\clade{rC2}{1124}{rC7}{R47}{ln}{ln}{100}
\clade{rC0}{1097}{rC1}{rC2}{ln}{ln}{100}
\clade{rU48}{1183}{R48}{R49}{ln}{ln}{99}
\clade{rU50}{1183}{R50}{R51}{ln}{ln}{100}
\clade{rU6}{1182}{rU48}{rU50}{ln}{ln}{100}
\clade{rU5}{1173}{rU6}{R52}{ln}{ln}{}
\clade{rUm1}{1182}{R53}{R54}{lr}{lr}{\R{100}}
\clade{rUm3}{1181}{R55}{R56}{lr}{lr}{\R{100}}
\clade{rUm2}{1181}{rUm1}{rUm3}{lr}{lr}{\R{80}}
\clade{rUm}{1178}{rUm2}{R57}{lr}{lr}{\R{100}}
\clade{rU4}{1154}{rU5}{rUm}{ln}{lr}{100}
\clade{rU3}{1114}{rU4}{R58}{ln}{ln}{100}
\clade{rU2}{1086}{rU3}{R59}{ln}{ln}{100}
\clade{rU1}{1058}{rU2}{R60}{ln}{ln}{79}
\clade{rTp1}{1199}{R62}{R63}{lr}{lr}{\R{72}}
\clade{rTp}{1197}{R61}{rTp1}{lr}{lr}{\R{100}}
\clade{rTa1}{1190}{R65}{R66}{ln}{ln}{100}
\clade{rTa}{1187}{R64}{rTa1}{ln}{ln}{100}
\clade{rT0}{1136}{rTp}{rTa}{lr}{ln}{100}
\clade{rU0}{1045}{rU1}{rT0}{ln}{ln}{100}
\clade{rAd}{1263}{R68}{R69}{lr}{lr}{\R{100}}
\clade{rA71}{1268}{R71}{R72}{ln}{ln}{79}
\clade{rA7}{1265}{R70}{rA71}{ln}{ln}{99}
\clade{rA6}{1261}{rAd}{rA7}{lr}{ln}{100}
\clade{rA5}{1229}{rA6}{R73}{ln}{ln}{100}
\clade{rA4}{1174}{rA5}{R74}{ln}{ln}{99}
\clade{rA3}{1155}{rA4}{R75}{ln}{ln}{87}
\clade{rA2}{1145}{R67}{rA3}{ln}{ln}{100}
\clade{rA76}{1147}{R76}{R77}{ln}{ln}{58}
\clade{rA1}{1128}{rA2}{rA76}{ln}{ln}{34}
\clade{rA0}{1119}{rA1}{R78}{ln}{ln}{100}
\clade{rAc2}{1164}{R79}{R80}{lr}{lr}{\R{78}}
\clade{rAc3}{1163}{R81}{R82}{lr}{lr}{\R{45}}
\clade{rAc}{1162}{rAc2}{rAc3}{lr}{lr}{\R{75}}
\clade{rAa3}{1163}{R85}{R86}{ln}{ln}{100}
\clade{rAa2}{1162}{R84}{rAa3}{ln}{ln}{91}
\clade{rAa}{1162}{R83}{rAa2}{ln}{ln}{100}
\clade{rS1}{1124}{rAc}{rAa}{lr}{ln}{100}
\clade{rS0}{1093}{rS1}{R87}{ln}{ln}{100}
\clade{rG88}{1212}{R88}{R89}{ln}{ln}{100}
\clade{rG4}{1139}{rG88}{R90}{ln}{lr}{63}
\clade{rG2}{1131}{rG4}{R91}{ln}{ln}{100}
\clade{rG92}{1229}{R92}{R93}{ln}{ln}{100}
\clade{rG8}{1199}{rG92}{R94}{ln}{ln}{100}
\clade{rGe2}{1265}{R95}{R96}{lr}{lr}{\R{43}}
\clade{rGe4}{1266}{R98}{R99}{lr}{lr}{\R{63}}
\clade{rGe3}{1265}{R97}{rGe4}{lr}{lr}{\R{100}}
\clade{rGe}{1263}{rGe2}{rGe3}{lr}{lr}{\R{60}}
\clade{rG7}{1179}{rG8}{rGe}{ln}{lr}{100}
\clade{rG5}{1148}{rG7}{R100}{ln}{ln}{100}
\clade{rG101}{1237}{R101}{R102}{ln}{ln}{100}
\clade{rG9}{1227}{rG101}{R103}{ln}{ln}{56}
\clade{rG105}{1239}{R105}{R106}{ln}{lr}{100}
\clade{rG10}{1233}{R104}{rG105}{ln}{ln}{100}
\clade{rG6}{1223}{rG9}{rG10}{ln}{ln}{100}
\clade{rG3}{1119}{rG5}{rG6}{ln}{ln}{100}
\clade{rG1}{1094}{rG2}{rG3}{ln}{ln}{100}
\clade{rRa1}{1293}{R107}{R108}{lr}{lr}{\R{98}}
\clade{rRaC}{1300}{R109}{R110}{lr}{lr}{\R{74}}
\clade{rRaD}{1301}{R111}{R112}{lr}{lr}{}
\clade{rRaB}{1299}{rRaC}{rRaD}{lr}{lr}{\R{89}}
\clade{rRa}{1291}{rRa1}{rRaB}{lr}{lr}{\R{100}}
\clade{rR113}{1351}{R113}{R114}{ln}{ln}{100}
\clade{rR115}{1314}{R115}{R116}{ln}{ln}{100}
\clade{rR2}{1248}{rR113}{rR115}{ln}{ln}{100}
\clade{rR1}{1214}{rRa}{rR2}{lr}{ln}{100}
\clade{rR117}{1203}{R117}{R118}{ln}{ln}{100}
\clade{rR0}{1183}{rR1}{rR117}{ln}{ln}{100}
\clade{rG0}{1042}{rG1}{rR0}{ln}{ln}{100}
\coordinate (rs1) at (960,0 |- rB0);
\coordinate (rs2) at (1000,0 |- rE0);
\coordinate (rs3) at (1068,0 |- rC0);
\coordinate (rs4) at (1037,0 |- rU0);
\coordinate (rs5) at (1103,0 |- rA0);
\coordinate (rs6) at (1017,0 |- rS0);
\coordinate (rs7) at (1038,0 |- rG0);
\draw[ln] (rs1) -- (rB0);
\draw[ln] (rs2) -- (rE0);
\draw[ln] (rs3) -- (rC0);
\draw[ln] (rs4) -- (rU0);
\draw[ln] (rs5) -- (rA0);
\draw[ln] (rs6) -- (rS0);
\draw[ln] (rs7) -- (rG0);

\coordinate (sbL1) at (159,1751);
\coordinate (sbL2) at (242,1751);
\draw[ln,line width=1pt] (sbL1) -- (sbL2);
\node[barlabel] (sbLt) at ($(sbL1)!.5!(sbL2)+(0,12)$) {0.02};
\coordinate (sbR1) at (1088,1750);
\coordinate (sbR2) at (1136,1750);
\draw[ln,line width=1pt] (sbR1) -- (sbR2);
\node[barlabel] (sbRt) at ($(sbR1)!.5!(sbR2)+(0,12)$) {0.03};
\end{tikzpicture}
\end{document}
